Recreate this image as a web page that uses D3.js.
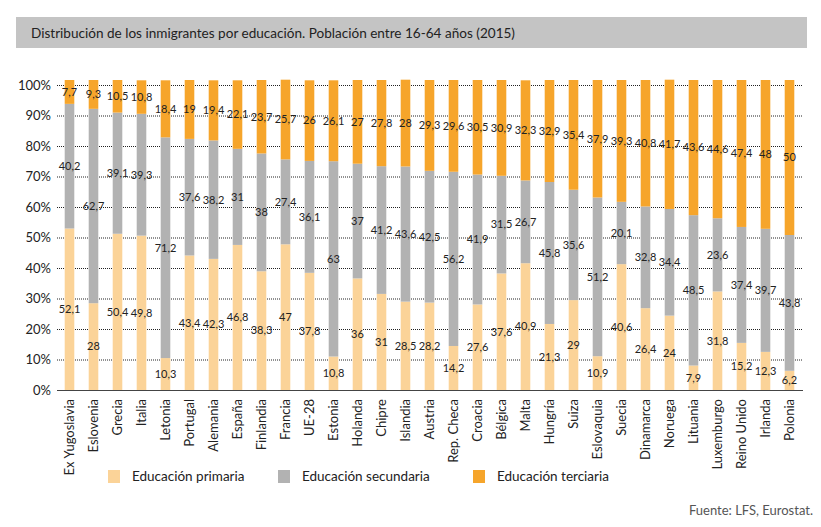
<!DOCTYPE html>
<html><head><meta charset="utf-8">
<script src="https://cdn.jsdelivr.net/npm/d3@7"></script>
<style>
body{margin:0;background:#fff;}
svg{display:block;font-family:Lato, "Open Sans", sans-serif;}
</style></head>
<body><svg id="c" width="821" height="527"></svg>
<script>
const categories = ["Ex Yugoslavia","Eslovenia","Grecia","Italia","Letonia","Portugal","Alemania","España","Finlandia","Francia","UE-28","Estonia","Holanda","Chipre","Islandia","Austria","Rep. Checa","Croacia","Bélgica","Malta","Hungría","Suiza","Eslovaquia","Suecia","Dinamarca","Noruega","Lituania","Luxemburgo","Reino Unido","Irlanda","Polonia"];
const primaria   = [52.1,28,50.4,49.8,10.3,43.4,42.3,46.8,38.3,47,37.8,10.8,36,31,28.5,28.2,14.2,27.6,37.6,40.9,21.3,29,10.9,40.6,26.4,24,7.9,31.8,15.2,12.3,6.2];
const secundaria = [40.2,62.7,39.1,39.3,71.2,37.6,38.2,31,38,27.4,36.1,63,37,41.2,43.6,42.5,56.2,41.9,31.5,26.7,45.8,35.6,51.2,20.1,32.8,34.4,48.5,23.6,37.4,39.7,43.8];
const terciaria  = [7.7,9.3,10.5,10.8,18.4,19,19.4,22.1,23.7,25.7,26,26.1,27,27.8,28,29.3,29.6,30.5,30.9,32.3,32.9,35.4,37.9,39.3,40.8,41.7,43.6,44.6,47.4,48,50];
const seriesNames = ["Educación primaria","Educación secundaria","Educación terciaria"];
const yTicks = [0,10,20,30,40,50,60,70,80,90,100];
const title = "Distribución de los inmigrantes por educación. Población entre 16-64 años (2015)";
const source = "Fuente: LFS, Eurostat.";

const colors = ["#FBD398","#B2B2B2","#F6A52B"];
const svg = d3.select("#c");

// title bar
svg.append("rect").attr("x",16).attr("y",17).attr("width",791).attr("height",31).attr("fill","#C4C4C4");
svg.append("text").attr("x",31).attr("y",37.5).attr("font-size",13).attr("fill","#222")
  .attr("textLength",484).attr("lengthAdjust","spacingAndGlyphs").text(title);

const x = d3.scaleBand().domain(categories).range([57.5,801.5]).paddingInner(0.6).paddingOuter(0.3);
const yAxisScale = d3.scaleLinear().domain([0,100]).range([390,85]);
const yBar = d3.scaleLinear().domain([0,100]).range([390,80]);

// grid
const grid = svg.append("g");
grid.selectAll("line").data(yTicks.filter(d=>d>0)).join("line")
  .attr("x1",57).attr("x2",803).attr("y1",d=>yAxisScale(d)+0.5).attr("y2",d=>yAxisScale(d)+0.5)
  .attr("stroke","#222").attr("stroke-width",1).attr("stroke-dasharray","1,1");

// y labels
const yAx = svg.append("g").attr("transform","translate(57,0)")
  .call(d3.axisLeft(yAxisScale).tickValues(yTicks).tickFormat(d=>d+"%").tickSize(0).tickPadding(6));
yAx.select(".domain").remove();
yAx.selectAll("text").attr("font-size",13).attr("fill","#222").attr("font-family","Lato, sans-serif");

// stack
const rows = categories.map((c,i)=>({cat:c, p:primaria[i], s:secundaria[i], t:terciaria[i]}));
const stack = d3.stack().keys(["p","s","t"])(rows);

const gBars = svg.append("g");
stack.forEach((layer,li)=>{
  gBars.append("g").selectAll("rect").data(layer).join("rect")
    .attr("x",d=>x(d.data.cat)).attr("width",x.bandwidth())
    .attr("y",d=>yBar(d[1])).attr("height",d=>yBar(d[0])-yBar(d[1]))
    .attr("fill",colors[li]);
});

// x axis baseline
svg.append("line").attr("x1",57).attr("x2",803).attr("y1",390.5).attr("y2",390.5).attr("stroke","#444").attr("stroke-width",1.2);

// value labels
const fmt = v => String(v).replace(".",",");
const gLab = svg.append("g");
stack.forEach((layer,li)=>{
  gLab.append("g").selectAll("text").data(layer).join("text")
    .attr("x",d=>x(d.data.cat)+x.bandwidth()/2)
    .attr("y",d=>yBar((d[0]+d[1])/2))
    .attr("dy","0.35em").attr("text-anchor","middle")
    .attr("font-size",11).attr("fill","#222")
    .text((d,i)=>fmt([primaria,secundaria,terciaria][li][i]));
});

// x labels
const xAx = svg.append("g").attr("transform","translate(0,390)")
  .call(d3.axisBottom(x).tickSize(0).tickPadding(0));
xAx.select(".domain").remove();
xAx.selectAll("text").attr("font-size",13).attr("fill","#222").attr("font-family","Lato, sans-serif")
  .attr("text-anchor","end").attr("transform","translate(0,9) rotate(-90)").attr("x",0).attr("y",0).attr("dy","0.35em");

// legend
const legX = [108,278,473];
const leg = svg.append("g");
seriesNames.forEach((n,i)=>{
  leg.append("rect").attr("x",legX[i]).attr("y",470).attr("width",12).attr("height",13).attr("fill",colors[i]);
  leg.append("text").attr("x",legX[i]+24).attr("y",481).attr("font-size",13.5).attr("fill","#222").text(n);
});

// source
svg.append("text").attr("x",813).attr("y",515).attr("text-anchor","end").attr("font-size",13).attr("fill","#555").text(source);
</script></body></html>
